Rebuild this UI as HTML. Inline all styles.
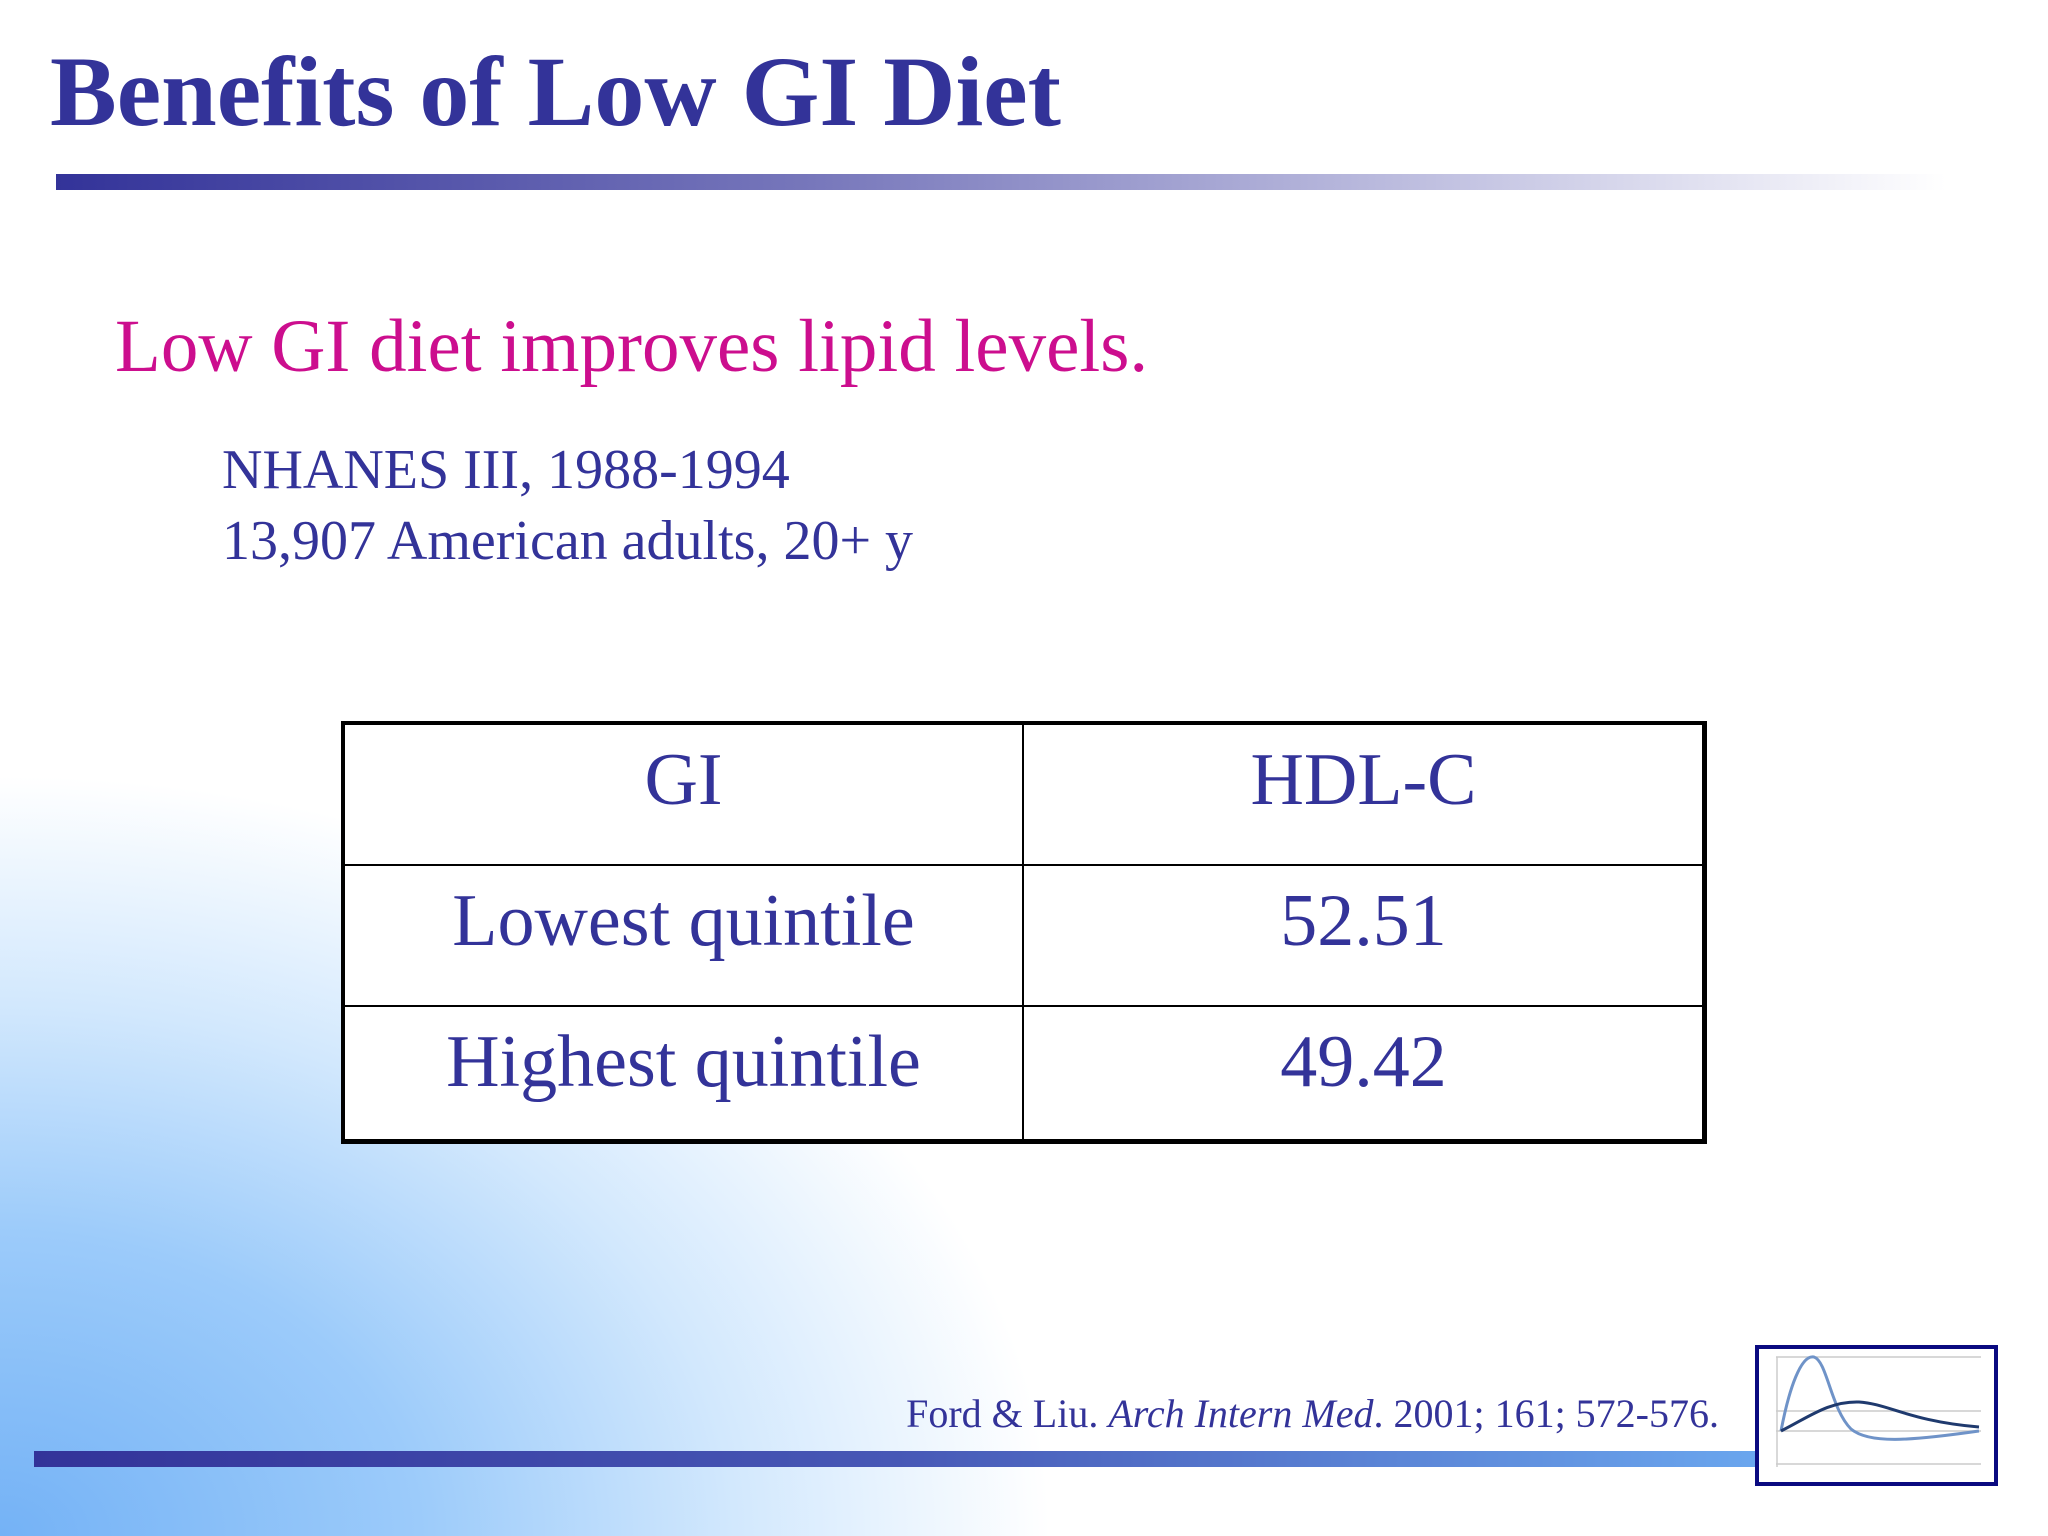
<!DOCTYPE html>
<html><head><meta charset="utf-8"><style>
body{margin:0;}
#slide{position:relative;width:2048px;height:1536px;overflow:hidden;background:#fff;font-family:"Liberation Serif",serif;}
#bg{position:absolute;left:0;top:0;width:2048px;height:1536px;background:radial-gradient(ellipse 1050px 760px at 0% 100%, #74b2f6 0%, #9ccbfa 40%, #d2e8fd 70%, rgba(255,255,255,0) 100%);}
.abs{position:absolute;white-space:nowrap;}
#title{left:50px;top:32px;font-size:100px;font-weight:bold;color:#333399;line-height:120px;}
#rule-top{left:56px;top:174px;width:1890px;height:16px;background:linear-gradient(90deg,#333399 0%,#7777bb 40%,#c5c5e3 75%,rgba(255,255,255,0) 100%);}
#subtitle{left:115px;top:302px;font-size:75px;color:#cc0e8e;line-height:90px;}
.info{left:222px;font-size:56px;color:#333399;line-height:60px;}
#table{left:341px;top:721px;width:1366px;height:423px;border:4px solid #000;border-right-width:5px;border-bottom-width:5px;box-sizing:border-box;background:#fff;}
.cell{position:absolute;box-sizing:border-box;text-align:center;font-size:74px;color:#333399;line-height:110px;}
#cite{right:329px;top:1390px;font-size:40px;color:#333399;line-height:48px;}
#rule-bot{left:34px;top:1451px;width:1723px;height:16px;background:linear-gradient(90deg,#333399 0%,#4758b6 50%,#6aa6ee 100%);}
#logo{left:1755px;top:1345px;width:243px;height:141px;border:4px solid #0a0a80;box-sizing:border-box;background:#fff;}
</style></head><body>
<div id="slide">
<div id="bg"></div>
<div id="title" class="abs">Benefits of Low GI Diet</div>
<div id="rule-top" class="abs"></div>
<div id="subtitle" class="abs">Low GI diet improves lipid levels.</div>
<div class="abs info" style="top:440px">NHANES III, 1988-1994</div>
<div class="abs info" style="top:511px">13,907 American adults, 20+ y</div>
<div id="table" class="abs">
  <div class="cell" style="left:0;top:0;width:679px;height:141px;border-right:2px solid #000;border-bottom:2px solid #000;">GI</div>
  <div class="cell" style="left:679px;top:0;width:679px;height:141px;border-bottom:2px solid #000;">HDL-C</div>
  <div class="cell" style="left:0;top:141px;width:679px;height:141px;border-right:2px solid #000;border-bottom:2px solid #000;">Lowest quintile</div>
  <div class="cell" style="left:679px;top:141px;width:679px;height:141px;border-bottom:2px solid #000;">52.51</div>
  <div class="cell" style="left:0;top:282px;width:679px;height:133px;border-right:2px solid #000;">Highest quintile</div>
  <div class="cell" style="left:679px;top:282px;width:679px;height:133px;">49.42</div>
</div>
<div id="cite" class="abs">Ford &amp; Liu. <i>Arch Intern Med</i>. 2001; 161; 572-576.</div>
<div id="rule-bot" class="abs"></div>
<div id="logo" class="abs">
<svg width="235" height="133" viewBox="0 0 235 133">
<g stroke="#ccc" stroke-width="1.5" fill="none">
<line x1="17" y1="8" x2="222" y2="8"/><line x1="17" y1="62" x2="222" y2="62"/><line x1="17" y1="82" x2="222" y2="82"/><line x1="17" y1="115" x2="222" y2="115"/><line x1="18" y1="8" x2="18" y2="118"/>
</g>
<path d="M22,82 C30,40 42,5 55,8 C68,12 72,60 92,80 C110,95 150,92 220,82" stroke="#6f93c8" stroke-width="3" fill="none"/>
<path d="M22,82 C50,68 70,52 100,53 C130,55 150,72 220,78" stroke="#1f3a6e" stroke-width="3" fill="none"/>
</svg>
</div>
</div>
</body></html>
